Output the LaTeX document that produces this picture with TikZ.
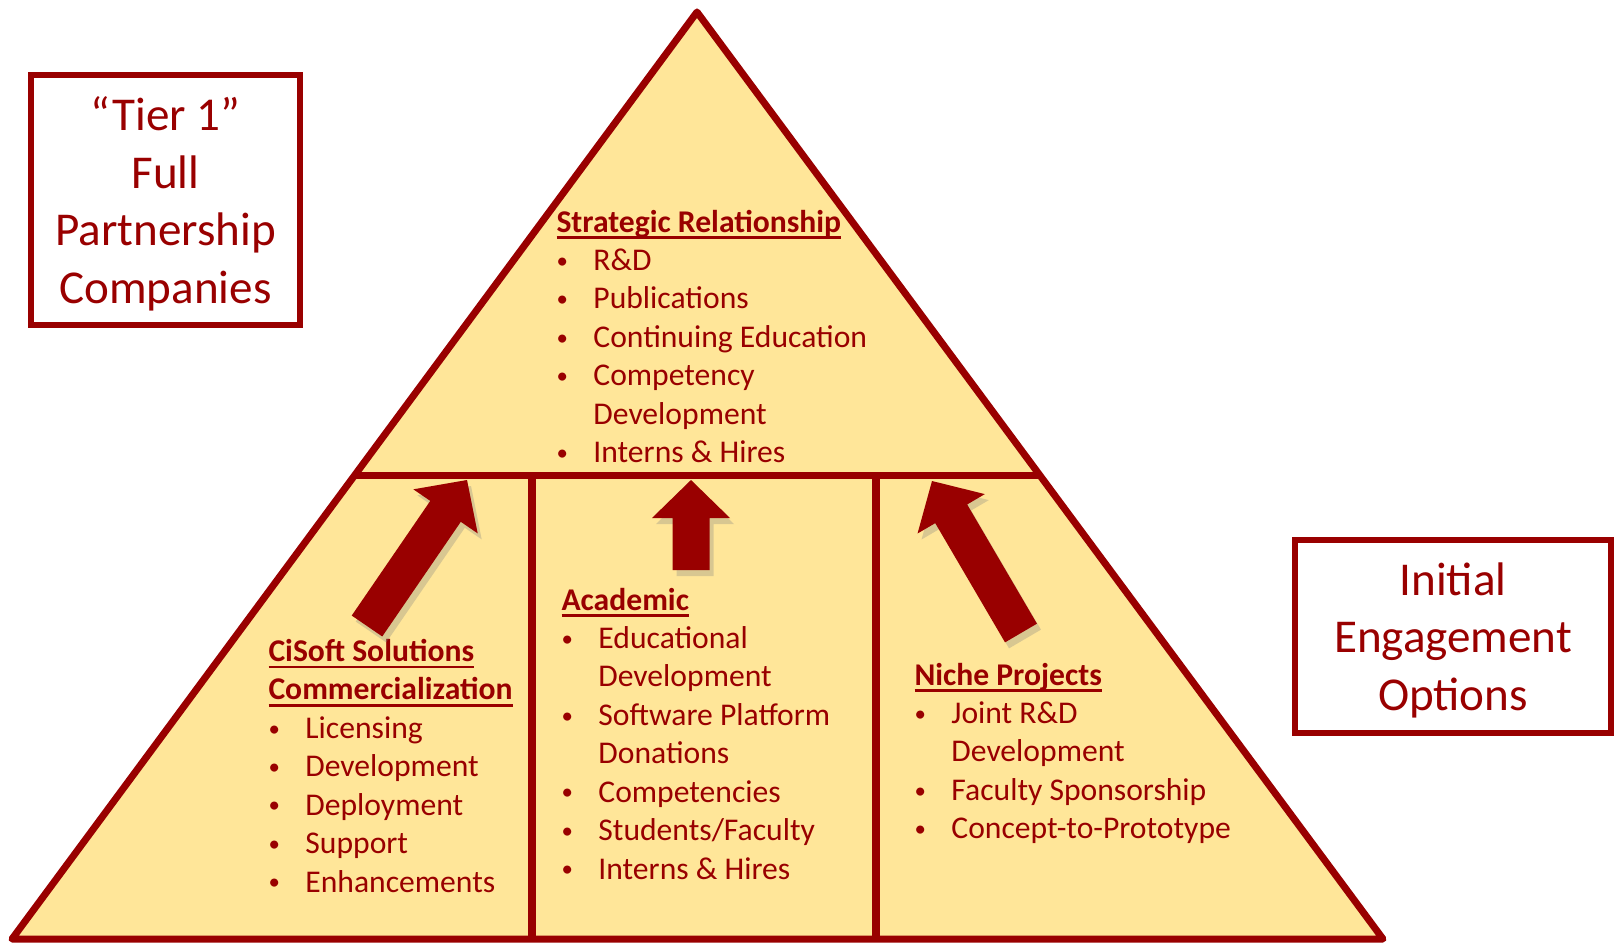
\documentclass[tikz,border=0pt]{standalone}
\usepackage{fontspec}
\setmainfont{Carlito}
\usetikzlibrary{calc,shadows}
\definecolor{pyramidred}{HTML}{990000}
\definecolor{pyramidfill}{HTML}{FFE699}
\newsavebox{\headbox}
\newcommand{\tierhead}[1]{\sbox{\headbox}{\textbf{#1}}\rlap{\rule[-1.9pt]{\wd\headbox}{0.7pt}}\usebox{\headbox}}
\newcommand{\tieritem}[1]{\makebox[10.5pt][l]{\raisebox{0.7pt}{\fontsize{6.5}{6.5}\selectfont\textbullet}}#1}
\newcommand{\tiercont}[1]{\hspace*{10.5pt}#1}
% block arrow from tail #1 to tip #2
\newcommand{\bigarrow}[2]{%
  \coordinate (ah) at ($(#2)!3.8mm!(#1)$);
  \fill[arrowfill] ($(#1)!1.85mm!90:(#2)$) -- ($(ah)!1.85mm!-90:(#1)$) -- ($(ah)!3.9mm!-90:(#1)$)
    -- (#2) -- ($(ah)!3.9mm!90:(#1)$) -- ($(ah)!1.85mm!90:(#1)$) -- ($(#1)!1.85mm!-90:(#2)$) -- cycle;}
\begin{document}
\begin{tikzpicture}[x=0.1mm, y=-0.1mm, line width=2pt,
  tierbox/.style = {draw=pyramidred, line width=1.7pt, text=pyramidred, align=center, inner sep=0pt, text depth=0pt, font=\fontsize{13.4}{16.4}\selectfont},
  block/.style = {anchor=base west, inner sep=0pt, text=pyramidred, font=\fontsize{9}{10.95}\selectfont},
  arrowfill/.style = {fill=pyramidred, drop shadow={opacity=0.3, shadow xshift=0.4mm, shadow yshift=-0.6mm}}]
\useasboundingbox (0,0) rectangle (1614,945);

% pyramid
\coordinate (apex) at (697,12);
\coordinate (bl) at (12,939);
\coordinate (br) at (1383,939);
\filldraw[fill=pyramidfill, draw=pyramidred, line join=round] (apex) -- (bl) -- (br) -- cycle;
\draw[pyramidred] ($(apex)!0.5!(bl)$) coordinate (ml) -- ($(apex)!0.5!(br)$) coordinate (mr);
\draw[pyramidred] (532,476) -- (532,939);
\draw[pyramidred] (876,476) -- (876,939);

% side boxes
\node[tierbox, minimum width=26.9mm, minimum height=25mm] (tier) at (165.5,200) {“Tier 1”\\Full\\Partnership\\Companies};
\node[tierbox, minimum width=31.6mm, minimum height=19.3mm] (initial) at (1453,636.5) {Initial\\Engagement\\Options};

% tiers
\node[block] (strategic) at (553,232) {\begin{tabular}[t]{@{}l@{}}
\tierhead{Strategic Relationship}\\
\tieritem{R\&D}\\
\tieritem{Publications}\\
\tieritem{Continuing Education}\\
\tieritem{Competency}\\
\tiercont{Development}\\
\tieritem{Interns \& Hires}
\end{tabular}};
\node[block] (cisoft) at (265,661.5) {\begin{tabular}[t]{@{}l@{}}
\tierhead{CiSoft Solutions}\\
\tierhead{Commercialization}\\
\tieritem{Licensing}\\
\tieritem{Development}\\
\tieritem{Deployment}\\
\tieritem{Support}\\
\tieritem{Enhancements}
\end{tabular}};
\node[block] (academic) at (558,610) {\begin{tabular}[t]{@{}l@{}}
\tierhead{Academic}\\
\tieritem{Educational}\\
\tiercont{Development}\\
\tieritem{Software Platform}\\
\tiercont{Donations}\\
\tieritem{Competencies}\\
\tieritem{Students/Faculty}\\
\tieritem{Interns \& Hires}
\end{tabular}};
\node[block] (niche) at (911,685) {\begin{tabular}[t]{@{}l@{}}
\tierhead{Niche Projects}\\
\tieritem{Joint R\&D}\\
\tiercont{Development}\\
\tieritem{Faculty Sponsorship}\\
\tieritem{Concept-to-Prototype}
\end{tabular}};

% arrows up to the top tier
\coordinate (ctail) at (367,626);
\coordinate (ctip) at (467,480);
\coordinate (atail) at (691,570);
\coordinate (atip) at (691,480);
\coordinate (ntail) at (1021,633);
\coordinate (ntip) at (932,481);
\bigarrow{ctail}{ctip}
\bigarrow{atail}{atip}
\bigarrow{ntail}{ntip}
\end{tikzpicture}
\end{document}
